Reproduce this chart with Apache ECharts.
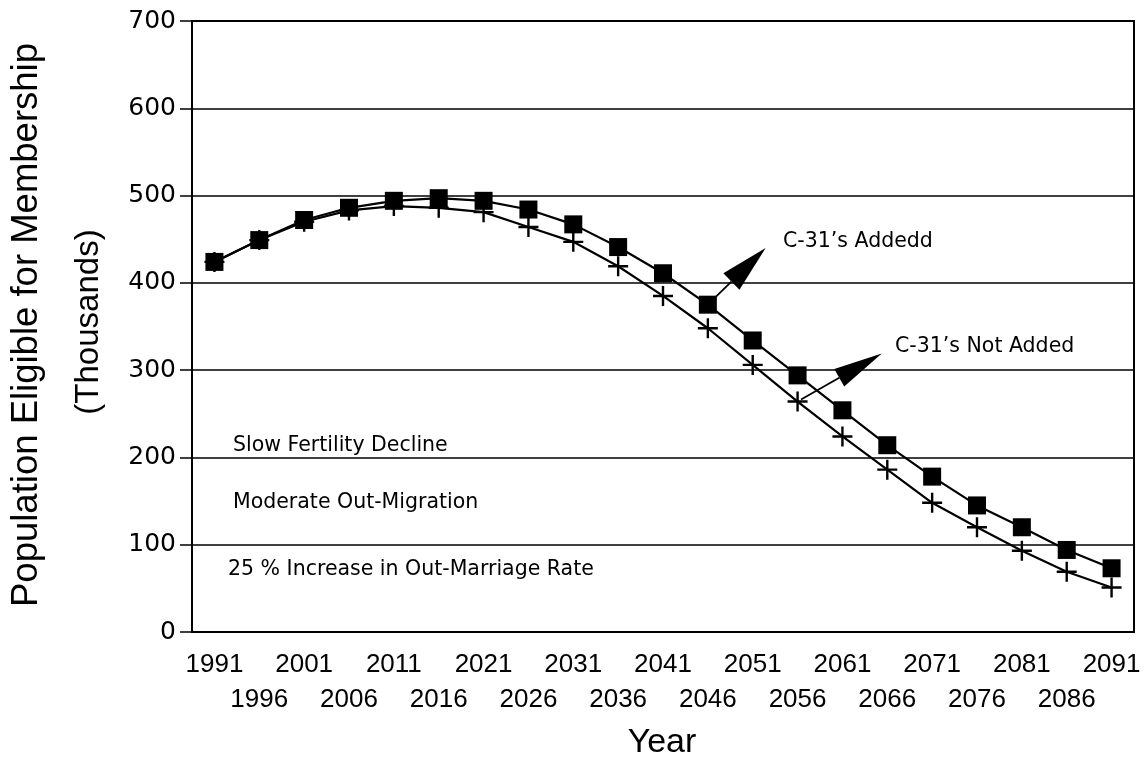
<!DOCTYPE html>
<html lang="en">
<head>
	<meta charset="UTF-8">
	<title>Population Eligible for Membership</title>
	<script src="https://cdn.jsdelivr.net/npm/echarts@6/dist/echarts.min.js"></script>
	<style>
		html, body { margin: 0; padding: 0; background: #fff; }
		#main { width: 1147px; height: 760px; }
	</style>
</head>
<body>
	<div id="main"></div>
	<script>
		// years on the x axis (every 5 years)
		var years = ['1991', '1996', '2001', '2006', '2011', '2016', '2021', '2026', '2031', '2036', '2041',
			'2046', '2051', '2056', '2061', '2066', '2071', '2076', '2081', '2086', '2091'];
		// C-31's added (squares)
		var addedValues = [424, 449, 472, 486, 494, 497, 494, 484, 467, 441, 411,
			375, 334, 294, 254, 214, 178, 145, 120, 94, 73];
		// C-31's not added (plus marks)
		var notAddedValues = [424, 449, 470, 483, 488, 486, 481, 464, 447, 419, 385,
			348, 306, 264, 224, 186, 148, 120, 93, 69, 51];
		var yTicks = [0, 100, 200, 300, 400, 500, 600, 700];

		var chart = echarts.init(document.getElementById('main'));
		var sans = '"Liberation Sans", Arial, sans-serif';
		var geo = '"DejaVu Sans", sans-serif';

		var option = {
			animation: false,
			backgroundColor: '#fff',
			grid: {
				left: 192, right: 13, top: 21, bottom: 128,
				show: true, borderColor: '#000', borderWidth: 2
			},
			xAxis: {
				type: 'category',
				data: years,
				boundaryGap: true,
				axisLine: { lineStyle: { color: '#000', width: 2 } },
				axisTick: { alignWithLabel: true, length: 8, lineStyle: { color: '#000', width: 1.5 } },
				axisLabel: {
					interval: 0,
					margin: 15,
					color: '#000',
					fontFamily: 'Liberation Sans',
					fontSize: 26,
					lineHeight: 35,
					formatter: function (v, i) {
						return i % 2 === 1 ? '\n' + v : v;   // two rows of labels
					}
				},
				splitLine: { show: false }
			},
			yAxis: {
				type: 'value',
				min: yTicks[0],
				max: yTicks[yTicks.length - 1],
				interval: 100,
				axisLine: { show: true, lineStyle: { color: '#000', width: 2 } },
				axisTick: { show: true, length: 12, lineStyle: { color: '#000', width: 1.5 } },
				axisLabel: { margin: 16, color: '#000', fontFamily: 'DejaVu Sans', fontSize: 25 },
				splitLine: { lineStyle: { color: '#000', width: 1.5 } }
			},
			series: [
				{
					name: "C-31's Not Added",
					type: 'line',
					data: notAddedValues,
					symbol: 'path://M0,4.4h10v1.2h-10z M4.4,0h1.2v10h-1.2z',
					symbolSize: 20,
					itemStyle: { color: '#000' },
					lineStyle: { color: '#000', width: 2.2 },
					z: 2
				},
				{
					name: "C-31's Added",
					type: 'line',
					data: addedValues,
					symbol: 'rect',
					symbolSize: 18,
					itemStyle: { color: '#000' },
					lineStyle: { color: '#000', width: 2.2 },
					z: 3
				}
			]
		};
		chart.setOption(option);

		// arrow pointing from a data point towards its label
		function arrow(p, dx, dy, startOff, baseOff, tipOff, halfW) {
			var len = Math.sqrt(dx * dx + dy * dy);
			var ux = dx / len, uy = dy / len;
			var px = -uy, py = ux;
			var bx = p[0] + ux * baseOff, by = p[1] + uy * baseOff;
			return [
				{
					type: 'line', z: 10,
					shape: { x1: p[0] + ux * startOff, y1: p[1] + uy * startOff, x2: bx, y2: by },
					style: { stroke: '#000', lineWidth: 1.8 }
				},
				{
					type: 'polygon', z: 10,
					shape: { points: [[p[0] + ux * tipOff, p[1] + uy * tipOff], [bx + px * halfW, by + py * halfW], [bx - px * halfW, by - py * halfW]] },
					style: { fill: '#000' }
				}
			];
		}

		var pAdded = chart.convertToPixel({ seriesIndex: 1 }, [11, addedValues[11]]);
		var pNot = chart.convertToPixel({ seriesIndex: 0 }, [13, notAddedValues[13]]);

		function txt(x, y, text, size, font) {
			return {
				type: 'text', x: x, y: y, z: 10,
				style: { text: text, fill: '#000', font: size + 'px ' + font, textAlign: 'left', textVerticalAlign: 'middle' }
			};
		}

		var graphics = []
			.concat(arrow(pAdded, 58, -57, 10, 33, 81, 11.5))
			.concat(arrow(pNot, 84, -48, 4, 48, 97, 10))
			.concat([
				txt(783, 242, 'C-31\u2019s Addedd', 20.5, geo),
				txt(895, 347, 'C-31\u2019s Not Added', 20.5, geo),
				txt(233, 446, 'Slow Fertility Decline', 20.5, geo),
				txt(233, 503, 'Moderate Out-Migration', 20.5, geo),
				txt(228, 570, '25 % Increase in Out-Marriage Rate', 20.5, geo),
				{
					type: 'text', x: 27, y: 325, rotation: Math.PI / 2, z: 10,
					style: { text: 'Population Eligible for Membership', fill: '#000', font: '36.5px ' + sans, textAlign: 'center', textVerticalAlign: 'middle' }
				},
				{
					type: 'text', x: 89, y: 322, rotation: Math.PI / 2, z: 10,
					style: { text: '(Thousands)', fill: '#000', font: '33px ' + sans, textAlign: 'center', textVerticalAlign: 'middle' }
				},
				{
					type: 'text', x: 662, y: 743, z: 10,
					style: { text: 'Year', fill: '#000', font: '34px ' + sans, textAlign: 'center', textVerticalAlign: 'middle' }
				}
			]);
		chart.setOption({ graphic: graphics });
	</script>
</body>
</html>
